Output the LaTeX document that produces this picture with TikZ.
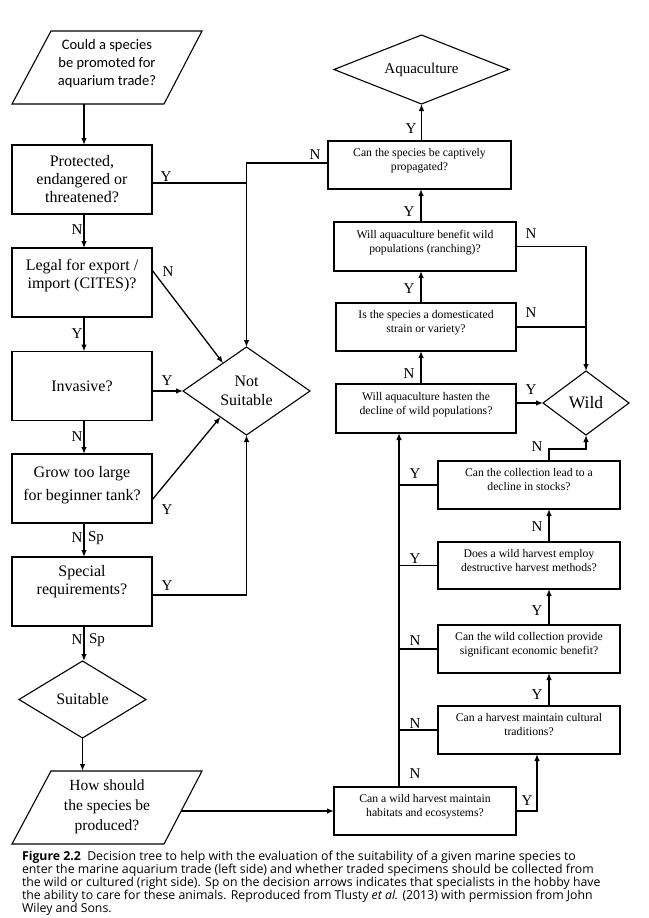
\documentclass[tikz,border=0pt]{standalone}
\usepackage{fontspec}
\setmainfont{Liberation Serif}
\newfontfamily\calfont{Carlito}
\newfontfamily\capfont{Open Sans}
\usetikzlibrary{shapes.geometric,arrows.meta}
\begin{document}
\begin{tikzpicture}[x=1pt,y=-1pt,
  every node/.style={inner sep=0pt, outer sep=0pt},
  lbox/.style={draw, line width=1.1pt, minimum width=140pt, minimum height=69pt, align=center, font=\fontsize{16}{18}\selectfont},
  rbox/.style={draw, line width=1.1pt, minimum height=48pt, align=center, font=\fontsize{11.7}{14}\selectfont, text depth=11pt},
  dia/.style={draw, diamond, line width=1.1pt, align=center},
  lab/.style={font=\fontsize{15}{15}\selectfont},
  conn/.style={line width=1.3pt},
  arr/.style={conn, -{Latex[length=7pt,width=5.5pt]}},
  para/.style={draw, line width=1.1pt, line join=miter}
]
\fill[white] (0,0) rectangle (648,918);
\useasboundingbox (0,0) rectangle (648,918);

% ---------- left column ----------
\draw[para] (51,31) -- (202,31) -- (164,104) -- (12,104) -- cycle;
\node[font=\calfont\fontsize{14.5}{18}\selectfont, align=center] (p1) at (107,64) {Could a species\\be promoted for\\aquarium trade?};
\coordinate (p1s) at (84,104);

\node[lbox] (b1) at (82,179.5) {Protected,\\endangered or\\threatened?};
\node[lbox, text depth=17pt] (b2) at (82,282.5) {Legal for export /\\import (CITES)?};
\node[lbox] (b3) at (82,386) {Invasive?};
\node[lbox, font=\fontsize{16}{23}\selectfont, text depth=10.5pt] (b4) at (82,488.5) {Grow too large\\for beginner tank?};
\node[lbox, text depth=23.5pt] (b5) at (82,591.5) {Special\\requirements?};

\node[dia, minimum width=127pt, minimum height=88pt, aspect=1.44, font=\fontsize{16}{19}\selectfont] (ns) at (246.5,391) {Not\\Suitable};
\node[dia, minimum width=127pt, minimum height=77pt, aspect=1.65, font=\fontsize{16}{19}\selectfont] (suit) at (82.5,699.5) {Suitable};

\draw[para] (51,771) -- (202,771) -- (164,844) -- (12,844) -- cycle;
\node[font=\fontsize{15.5}{20}\selectfont, align=center] (p2) at (107,806.5) {How should\\the species be\\produced?};
\coordinate (p2n) at (82.5,771);
\coordinate (p2e) at (181,811);

% ---------- right column ----------
\node[dia, minimum width=175pt, minimum height=69pt, aspect=2.54, font=\fontsize{15}{17}\selectfont] (aq) at (421.5,69.5) {Aquaculture};
\node[dia, minimum width=86pt, minimum height=64pt, aspect=1.34, font=\fontsize{17.5}{19}\selectfont] (wild) at (586,403) {Wild};

\node[rbox, minimum width=183pt] (r9) at (419.5,165) {Can the species be captively\\propagated?};
\node[rbox, minimum width=182pt, minimum height=49pt] (r8) at (425,246.5) {Will aquaculture benefit wild\\populations (ranching)?};
\node[rbox, minimum width=180pt] (r7) at (426,327) {Is the species a domesticated\\strain or variety?};
\node[rbox, minimum width=180pt, minimum height=49pt] (r6) at (426,408.5) {Will aquaculture hasten the\\decline of wild populations?};
\node[rbox, minimum width=182pt] (r5) at (529,485) {Can the collection lead to a\\decline in stocks?};
\node[rbox, minimum width=182pt, minimum height=47pt] (r4) at (529,565.5) {Does a wild harvest employ\\destructive harvest methods?};
\node[rbox, minimum width=182pt] (r3) at (529,649) {Can the wild collection provide\\significant economic benefit?};
\node[rbox, minimum width=182pt] (r2) at (529,730) {Can a harvest maintain cultural\\traditions?};
\node[rbox, minimum width=182pt] (r1) at (425,811) {Can a wild harvest maintain\\habitats and ecosystems?};
\coordinate (tr) at (399,600);

% ---------- left connectors ----------
\draw[arr] (p1s) -- ([xshift=2pt]b1.north);
\draw[arr] ([xshift=2pt]b1.south) -- ([xshift=2pt]b2.north);
\draw[conn] ([yshift=-3.5pt]b1.east) -- ([yshift=-3.5pt]b1.east -| ns.north);
\draw[arr] ([yshift=2pt]r9.west) -| (ns.north);
\draw[arr] ([yshift=12.5pt]b2.east) -- (ns.130);
\draw[arr] ([xshift=2pt]b2.south) -- ([xshift=2pt]b3.north);
\draw[arr] (b3.east |- ns.west) -- (ns.west);
\draw[arr] ([xshift=2pt]b3.south) -- ([xshift=2pt]b4.north);
\draw[arr] ([yshift=-11.5pt]b4.east) -- (ns.225);
\draw[arr] ([xshift=2pt]b4.south) -- ([xshift=2pt]b5.north);
\draw[arr] ([yshift=-3.5pt]b5.east) -| (ns.south);
\draw[arr] ([xshift=2pt]b5.south) -- ([xshift=2pt]b5.south |- suit.north);
\draw[arr] (suit.south) -- (p2n);
\draw[arr] (p2e) -- (r1.west);

% ---------- right connectors ----------
\draw[arr] ([xshift=-26pt]r1.north) -- ([xshift=-27pt]r6.south);
\draw[conn] (r2.west) -- (r2.west -| tr);
\draw[conn] (r3.west) -- (r3.west -| tr);
\draw[conn] (r4.west) -- (r4.west -| tr);
\draw[conn] (r5.west) -- (r5.west -| tr);
\draw[arr] (r1.east) -| ([xshift=8pt]r2.south);
\draw[arr] ([xshift=20pt]r2.north) -- ([xshift=20pt]r3.south);
\draw[arr] ([xshift=20pt]r3.north) -- ([xshift=20pt]r4.south);
\draw[arr] ([xshift=20pt]r4.north) -- ([xshift=20pt]r5.south);
\draw[arr] ([xshift=20pt]r5.north) -- ++(0,-12) -| (wild.south);
\draw[arr] (r6.east |- wild.west) -- (wild.west);
\draw[arr] ([xshift=-5pt]r6.north) -- ([xshift=-5pt]r7.south);
\draw[arr] ([xshift=-5pt]r7.north) -- ([xshift=-4pt]r8.south);
\draw[arr] ([xshift=-4pt]r8.north) -- ([xshift=1.5pt]r9.south);
\draw[arr] (aq.south |- r9.north) -- (aq.south);
\draw[arr] (r8.east) -| (wild.north);
\draw[conn] (r7.east) -- (r7.east -| wild.north);

% ---------- labels ----------
\node[lab] (lY1) at (166,177) {Y};
\node[lab] (lN1) at (315,155) {N};
\node[lab] (lN2) at (77,230) {N};
\node[lab] (lN3) at (168,272) {N};
\node[lab] (lY2) at (77,334) {Y};
\node[lab] (lY3) at (167,381) {Y};
\node[lab] (lN4) at (77,437) {N};
\node[lab] (lY4) at (167,510) {Y};
\node[lab] (lN5) at (77,538) {N};
\node[lab] (lS1) at (96,538) {Sp};
\node[lab] (lY5) at (167,586) {Y};
\node[lab] (lN6) at (77,640) {N};
\node[lab] (lS2) at (97,640) {Sp};

\node[lab] (rY1) at (411,129) {Y};
\node[lab] (rY2) at (409,212) {Y};
\node[lab] (rN1) at (531,234) {N};
\node[lab] (rY3) at (409,289) {Y};
\node[lab] (rN2) at (531,313) {N};
\node[lab] (rN3) at (409,374) {N};
\node[lab] (rY4) at (531,390) {Y};
\node[lab] (rN4) at (537,447) {N};
\node[lab] (rY5) at (415,474) {Y};
\node[lab] (rN5) at (537,527) {N};
\node[lab] (rY6) at (415,559) {Y};
\node[lab] (rY7) at (537,611) {Y};
\node[lab] (rN6) at (415,641) {N};
\node[lab] (rY8) at (537,695) {Y};
\node[lab] (rN7) at (415,724) {N};
\node[lab] (rN8) at (415,774) {N};
\node[lab] (rY9) at (527,801) {Y};

% ---------- caption ----------
\node[anchor=north west, align=left, font=\capfont\fontsize{12.3}{13}\selectfont] (cap) at (22,851) {%
{\bfseries Figure 2.2}\ \ Decision tree to help with the evaluation of the suitability of a given marine species to\\
enter the marine aquarium trade (left side) and whether traded specimens should be collected from\\
the wild or cultured (right side). Sp on the decision arrows indicates that specialists in the hobby have\\
the ability to care for these animals. Reproduced from Tlusty \textit{et al.} (2013) with permission from John\\
Wiley and Sons.};
\end{tikzpicture}
\end{document}
